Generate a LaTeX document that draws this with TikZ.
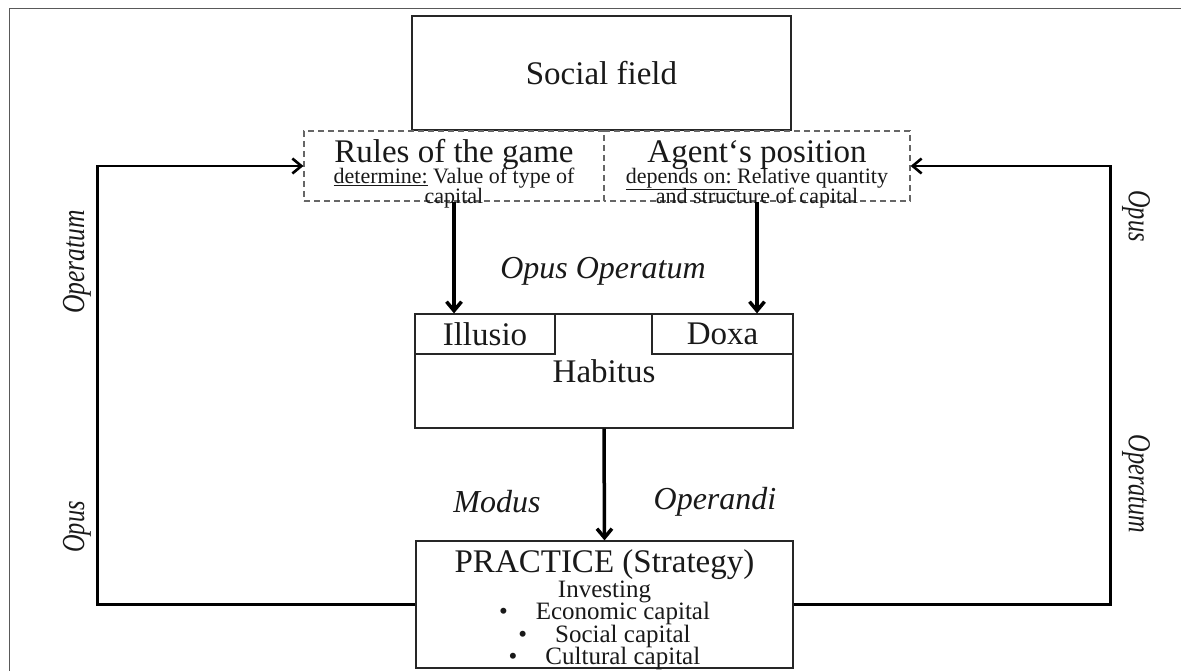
\documentclass[tikz,border=0pt]{standalone}
\usepackage{fontspec}
\setmainfont{Liberation Serif}
\usepackage{graphicx}
\usetikzlibrary{arrows.meta,positioning,calc}
\newcommand{\tightlines}{\lineskiplimit=-20pt\relax}
\tikzset{every node/.style={text=black!90},
	big/.style={font=\fontsize{33}{36}\selectfont},
	side label/.style={font=\itshape\fontsize{32}{36}\selectfont},
	x=1pt,y=-1pt}

\begin{document}
\begin{tikzpicture}[->,>={Straight Barb[length=9pt,width=15pt]},semithick]

		\tikzstyle{plain box}=[rectangle,draw=black!85,line width=1.2pt,inner sep=0pt,align=center]
		\tikzstyle{dash box}=[rectangle,draw=black!60,dash pattern=on 6pt off 4pt,line width=1.2pt,inner xsep=0pt,inner ysep=-20pt,align=center,font={\fontsize{22}{20}\selectfont\tightlines}]
		\tikzstyle{down arrow}=[line width=3.5pt]
		\tikzstyle{loop line}=[line width=2.6pt]

		\useasboundingbox (0,0) rectangle (1181,671);
		\draw[-,draw=black!65,line width=1pt] (9,671) -- (9,9) -- (1181,9);

		\node[plain box, big, minimum width=379pt, minimum height=114pt] (field) at (601.5,73) {Social field};
		\node[dash box, minimum width=300pt, minimum height=70pt] (rules) at (454,166)
			{{\fontsize{33}{25}\selectfont \rule{0pt}{38pt}Rules of the game}\\[1pt]
			 \underline{determine:} Value of type of\\
			 capital};
		\node[dash box, dash phase=4pt, minimum width=306pt, minimum height=70pt] (agent) at (757,166)
			{{\fontsize{33}{25}\selectfont \rule{0pt}{38pt}Agent‘s position}\\[1pt]
			 \underline{depends on:\ }Relative quantity\\
			 and structure of capital};

		\node[plain box, big, minimum width=378pt, minimum height=114pt] (habitus) at (604,371) {\raisebox{-4pt}{Habitus}};
		\node[plain box, big, minimum width=140pt, minimum height=40pt, anchor=north west] (illusio) at (habitus.north west) {Illusio};
		\node[plain box, big, minimum width=141pt, minimum height=40pt, anchor=north east] (doxa) at (habitus.north east) {Doxa};

		\node[plain box, inner ysep=-20pt, minimum width=377pt, minimum height=127pt, font={\fontsize{25}{22.5}\selectfont\tightlines}] (practice) at (604.5,604.5)
			{{\fontsize{33}{25}\selectfont \rule{0pt}{34pt}PRACTICE (Strategy)}\\[2pt]
			 Investing\\
			 \textbullet\hspace{28pt}Economic capital\\
			 \textbullet\hspace{28pt}Social capital\\
			 \textbullet\hspace{28pt}Cultural capital};

		\node[side label] (opop) at (603,271) {Opus Operatum};
		\node[side label] (modus) at (497,502) {Modus};
		\node[side label] (operandi) at (715,502) {Operandi};
		\node[side label, rotate=90] (lopera) at (77,262) {\scalebox{0.8}[1]{Operatum}};
		\node[side label, rotate=90] (lopus) at (77,527) {\scalebox{0.76}[1]{Opus}};
		\node[side label, rotate=-90] (ropus) at (1136,216) {\scalebox{0.76}[1]{Opus}};
		\node[side label, rotate=-90] (ropera) at (1136,484) {\scalebox{0.76}[1]{Operatum}};

		\path
		(rules.south) edge [down arrow] (rules.south |- illusio.north)
		(agent.south) edge [down arrow] (agent.south |- doxa.north)
		(habitus.south) edge [down arrow] (practice.north);

		\draw[loop line] (practice.west) -- ++(-318,0) |- (rules.west);
		\draw[loop line] (practice.east) -- ++(317,0) |- (agent.east);

\end{tikzpicture}
\end{document}
